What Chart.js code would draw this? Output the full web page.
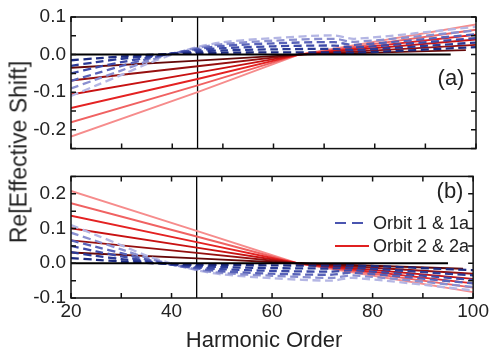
<!DOCTYPE html>
<html>
<head>
<meta charset="utf-8">
<script src="https://cdn.jsdelivr.net/npm/chart.js@4.4.1/dist/chart.umd.min.js"></script>
<style>
  body { margin: 0; background: #fff; }
  #wrap { position: relative; width: 491px; height: 351px; font-family: "Liberation Sans", Arial, sans-serif; color: #222; }
  canvas { position: absolute; left: 0; }
  #topChart { top: 0; }
  #bottomChart { top: 160px; }
  .lbl { position: absolute; white-space: nowrap; line-height: 1; }
  #yTitle { left: 19px; top: 152px; font-size: 23px; transform: translate(-50%, -50%) rotate(-90deg); }
  #xTitle { left: 264px; top: 340px; font-size: 22px; transform: translate(-50%, -50%); }
  .panel { font-size: 22px; transform: translate(-50%, -50%); }
  .legend { left: 335px; font-size: 18px; transform: translateY(-50%); display: flex; align-items: center; }
  .legend .sample { width: 30px; margin-right: 8px; }
  .dash { height: 2.5px; background: repeating-linear-gradient(90deg, #4a55b0 0 11px, transparent 11px 17px); }
  .solid { width: 34px !important; margin-right: 4px !important; height: 2px; background: #e02020; }
</style>
</head>
<body>
<div id="wrap">
  <canvas id="topChart" width="491" height="165"></canvas>
  <canvas id="bottomChart" width="491" height="191"></canvas>
  <div class="lbl" id="yTitle">Re[Effective Shift]</div>
  <div class="lbl" id="xTitle">Harmonic Order</div>
  <div class="lbl panel" style="left:451px; top:78px;">(a)</div>
  <div class="lbl panel" style="left:450px; top:191px;">(b)</div>
  <div class="lbl legend" style="top:223px;"><span class="sample dash"></span>Orbit 1 &amp; 1a</div>
  <div class="lbl legend" style="top:246px;"><span class="sample solid"></span>Orbit 2 &amp; 2a</div>
</div>
<script>
const blueX = [20, 25, 30, 35, 40, 45, 50, 60, 72, 76, 100];
const redX = [20, 45, 65, 100];
const redLastX = [98, 100, 100, 100, 100, 100]; // darkest line stops short

// panel (a): orbit 1 & 1a, dark -> light
const blueTop = [
  [-0.015, -0.010, -0.005, -0.001, 0.002, 0.004, 0.005, 0.006, 0.006, 0.005, 0.020],
  [-0.030, -0.020, -0.011, -0.004, 0.002, 0.008, 0.011, 0.014, 0.015, 0.012, 0.032],
  [-0.050, -0.034, -0.020, -0.008, 0.003, 0.012, 0.017, 0.022, 0.024, 0.019, 0.044],
  [-0.070, -0.050, -0.030, -0.012, 0.003, 0.015, 0.023, 0.030, 0.033, 0.026, 0.054],
  [-0.090, -0.066, -0.042, -0.018, 0.002, 0.018, 0.028, 0.037, 0.042, 0.034, 0.064],
  [-0.110, -0.082, -0.054, -0.025, 0.000, 0.020, 0.033, 0.044, 0.051, 0.042, 0.074]
];
// panel (a): orbit 2 & 2a, dark -> light
const redTop = [
  [-0.035, -0.016, 0, 0.012],
  [-0.069, -0.031, 0, 0.026],
  [-0.106, -0.048, 0, 0.040],
  [-0.142, -0.065, 0, 0.053],
  [-0.180, -0.082, 0, 0.066],
  [-0.218, -0.100, 0, 0.080]
];
// panel (b)
const blueBottom = [
  [0.015, 0.010, 0.005, 0.001, -0.002, -0.004, -0.005, -0.006, -0.007, -0.006, -0.020],
  [0.032, 0.021, 0.012, 0.004, -0.003, -0.008, -0.011, -0.014, -0.015, -0.013, -0.035],
  [0.050, 0.034, 0.020, 0.007, -0.004, -0.012, -0.017, -0.022, -0.024, -0.020, -0.048],
  [0.066, 0.047, 0.029, 0.011, -0.004, -0.015, -0.023, -0.030, -0.033, -0.027, -0.058],
  [0.088, 0.064, 0.040, 0.016, -0.003, -0.018, -0.028, -0.036, -0.042, -0.035, -0.068],
  [0.110, 0.081, 0.052, 0.022, -0.001, -0.020, -0.032, -0.043, -0.050, -0.042, -0.078]
];
const redBottom = [
  [0.031, 0.014, 0, -0.016],
  [0.066, 0.030, 0, -0.030],
  [0.101, 0.045, 0, -0.045],
  [0.137, 0.061, 0, -0.058],
  [0.173, 0.077, 0, -0.070],
  [0.208, 0.093, 0, -0.083]
];

const cutoffX = 45;          // vertical marker
const zeroLineX = [20, 95];  // black reference line at 0
const topRange = [-0.25, 0.1];
const bottomRange = [-0.1, 0.25];
const topTicks = [-0.2, -0.1, 0.0, 0.1];
const bottomTicks = [-0.1, 0.0, 0.1, 0.2];
const xTicks = [20, 40, 60, 80, 100];

const blueColors = ["#1c2a80", "#2b3a96", "#3d4aa8", "#5862b8", "#8a8fd0", "#b4b6e4"];
const redColors = ["#650808", "#961010", "#c81212", "#e42222", "#f06262", "#f68c8c"];

const FONT = "'Liberation Sans', Arial, sans-serif";

// frame with inward tick marks, like the original plot
const framePlugin = {
  id: "frame",
  afterDatasetsDraw(chart, args, opts) {
    const { ctx, chartArea: a, scales } = chart;
    ctx.save();
    ctx.strokeStyle = "#111";
    ctx.lineWidth = 1.5;
    ctx.strokeRect(a.left, a.top, a.right - a.left, a.bottom - a.top);
    ctx.beginPath();
    for (let v = 20; v <= 100; v += 10) {
      const px = scales.x.getPixelForValue(v);
      ctx.moveTo(px, a.top); ctx.lineTo(px, a.top + 5);
      ctx.moveTo(px, a.bottom); ctx.lineTo(px, a.bottom - 5);
    }
    for (let i = 0; i <= 7; i++) {
      const py = scales.y.getPixelForValue(opts.yMin + i * 0.05);
      ctx.moveTo(a.left, py); ctx.lineTo(a.left + 5, py);
      ctx.moveTo(a.right, py); ctx.lineTo(a.right - 5, py);
    }
    ctx.stroke();
    ctx.restore();
  }
};

function buildDatasets(blueRows, redRows, range) {
  const sets = [];
  sets.push({
    data: [{ x: zeroLineX[0], y: 0 }, { x: zeroLineX[1], y: 0 }],
    borderColor: "#000", borderWidth: 2
  });
  blueRows.forEach((row, i) => {
    sets.push({
      data: row.map((v, j) => ({ x: blueX[j], y: v })),
      borderColor: blueColors[i], borderWidth: 2.3, borderDash: [8, 4.5],
      tension: 0.3
    });
  });
  redRows.forEach((row, i) => {
    sets.push({
      data: row.map((v, j) => ({ x: j === 3 ? redLastX[i] : redX[j], y: v })),
      borderColor: redColors[i], borderWidth: 1.9
    });
  });
  sets.push({
    data: [{ x: cutoffX, y: range[0] }, { x: cutoffX, y: range[1] }],
    borderColor: "#000", borderWidth: 1.3
  });
  return sets;
}

function makeChart(id, blueRows, redRows, range, yTicks, showX) {
  return new Chart(document.getElementById(id), {
    type: "line",
    data: { datasets: buildDatasets(blueRows, redRows, range) },
    options: {
      responsive: false,
      animation: false,
      layout: { padding: showX ? { left: 0, right: 15, top: 8, bottom: 0 } : { left: 0, right: 15, top: 17, bottom: 15 } },
      elements: { point: { radius: 0 } },
      plugins: {
        legend: { display: false },
        tooltip: { enabled: false },
        frame: { yMin: range[0] }
      },
      scales: {
        x: {
          type: "linear", min: 20, max: 100,
          grid: { display: false, drawTicks: false },
          border: { display: false },
          afterBuildTicks: (s) => { s.ticks = xTicks.map((v) => ({ value: v })); },
          afterFit: (s) => { s.height = showX ? 53 : 0; },
          ticks: {
            display: showX, padding: 2, color: "#222",
            font: { family: FONT, size: 19 }
          }
        },
        y: {
          min: range[0], max: range[1],
          grid: { display: false, drawTicks: false },
          border: { display: false },
          afterBuildTicks: (s) => { s.ticks = yTicks.map((v) => ({ value: v })); },
          afterFit: (s) => { s.width = 71; },
          ticks: {
            padding: 5, color: "#222",
            font: { family: FONT, size: 19 },
            callback: (v) => (Math.abs(v) < 1e-9 ? "0.0" : v.toFixed(1))
          }
        }
      }
    },
    plugins: [framePlugin]
  });
}

makeChart("topChart", blueTop, redTop, topRange, topTicks, false);
makeChart("bottomChart", blueBottom, redBottom, bottomRange, bottomTicks, true);
</script>
</body>
</html>
